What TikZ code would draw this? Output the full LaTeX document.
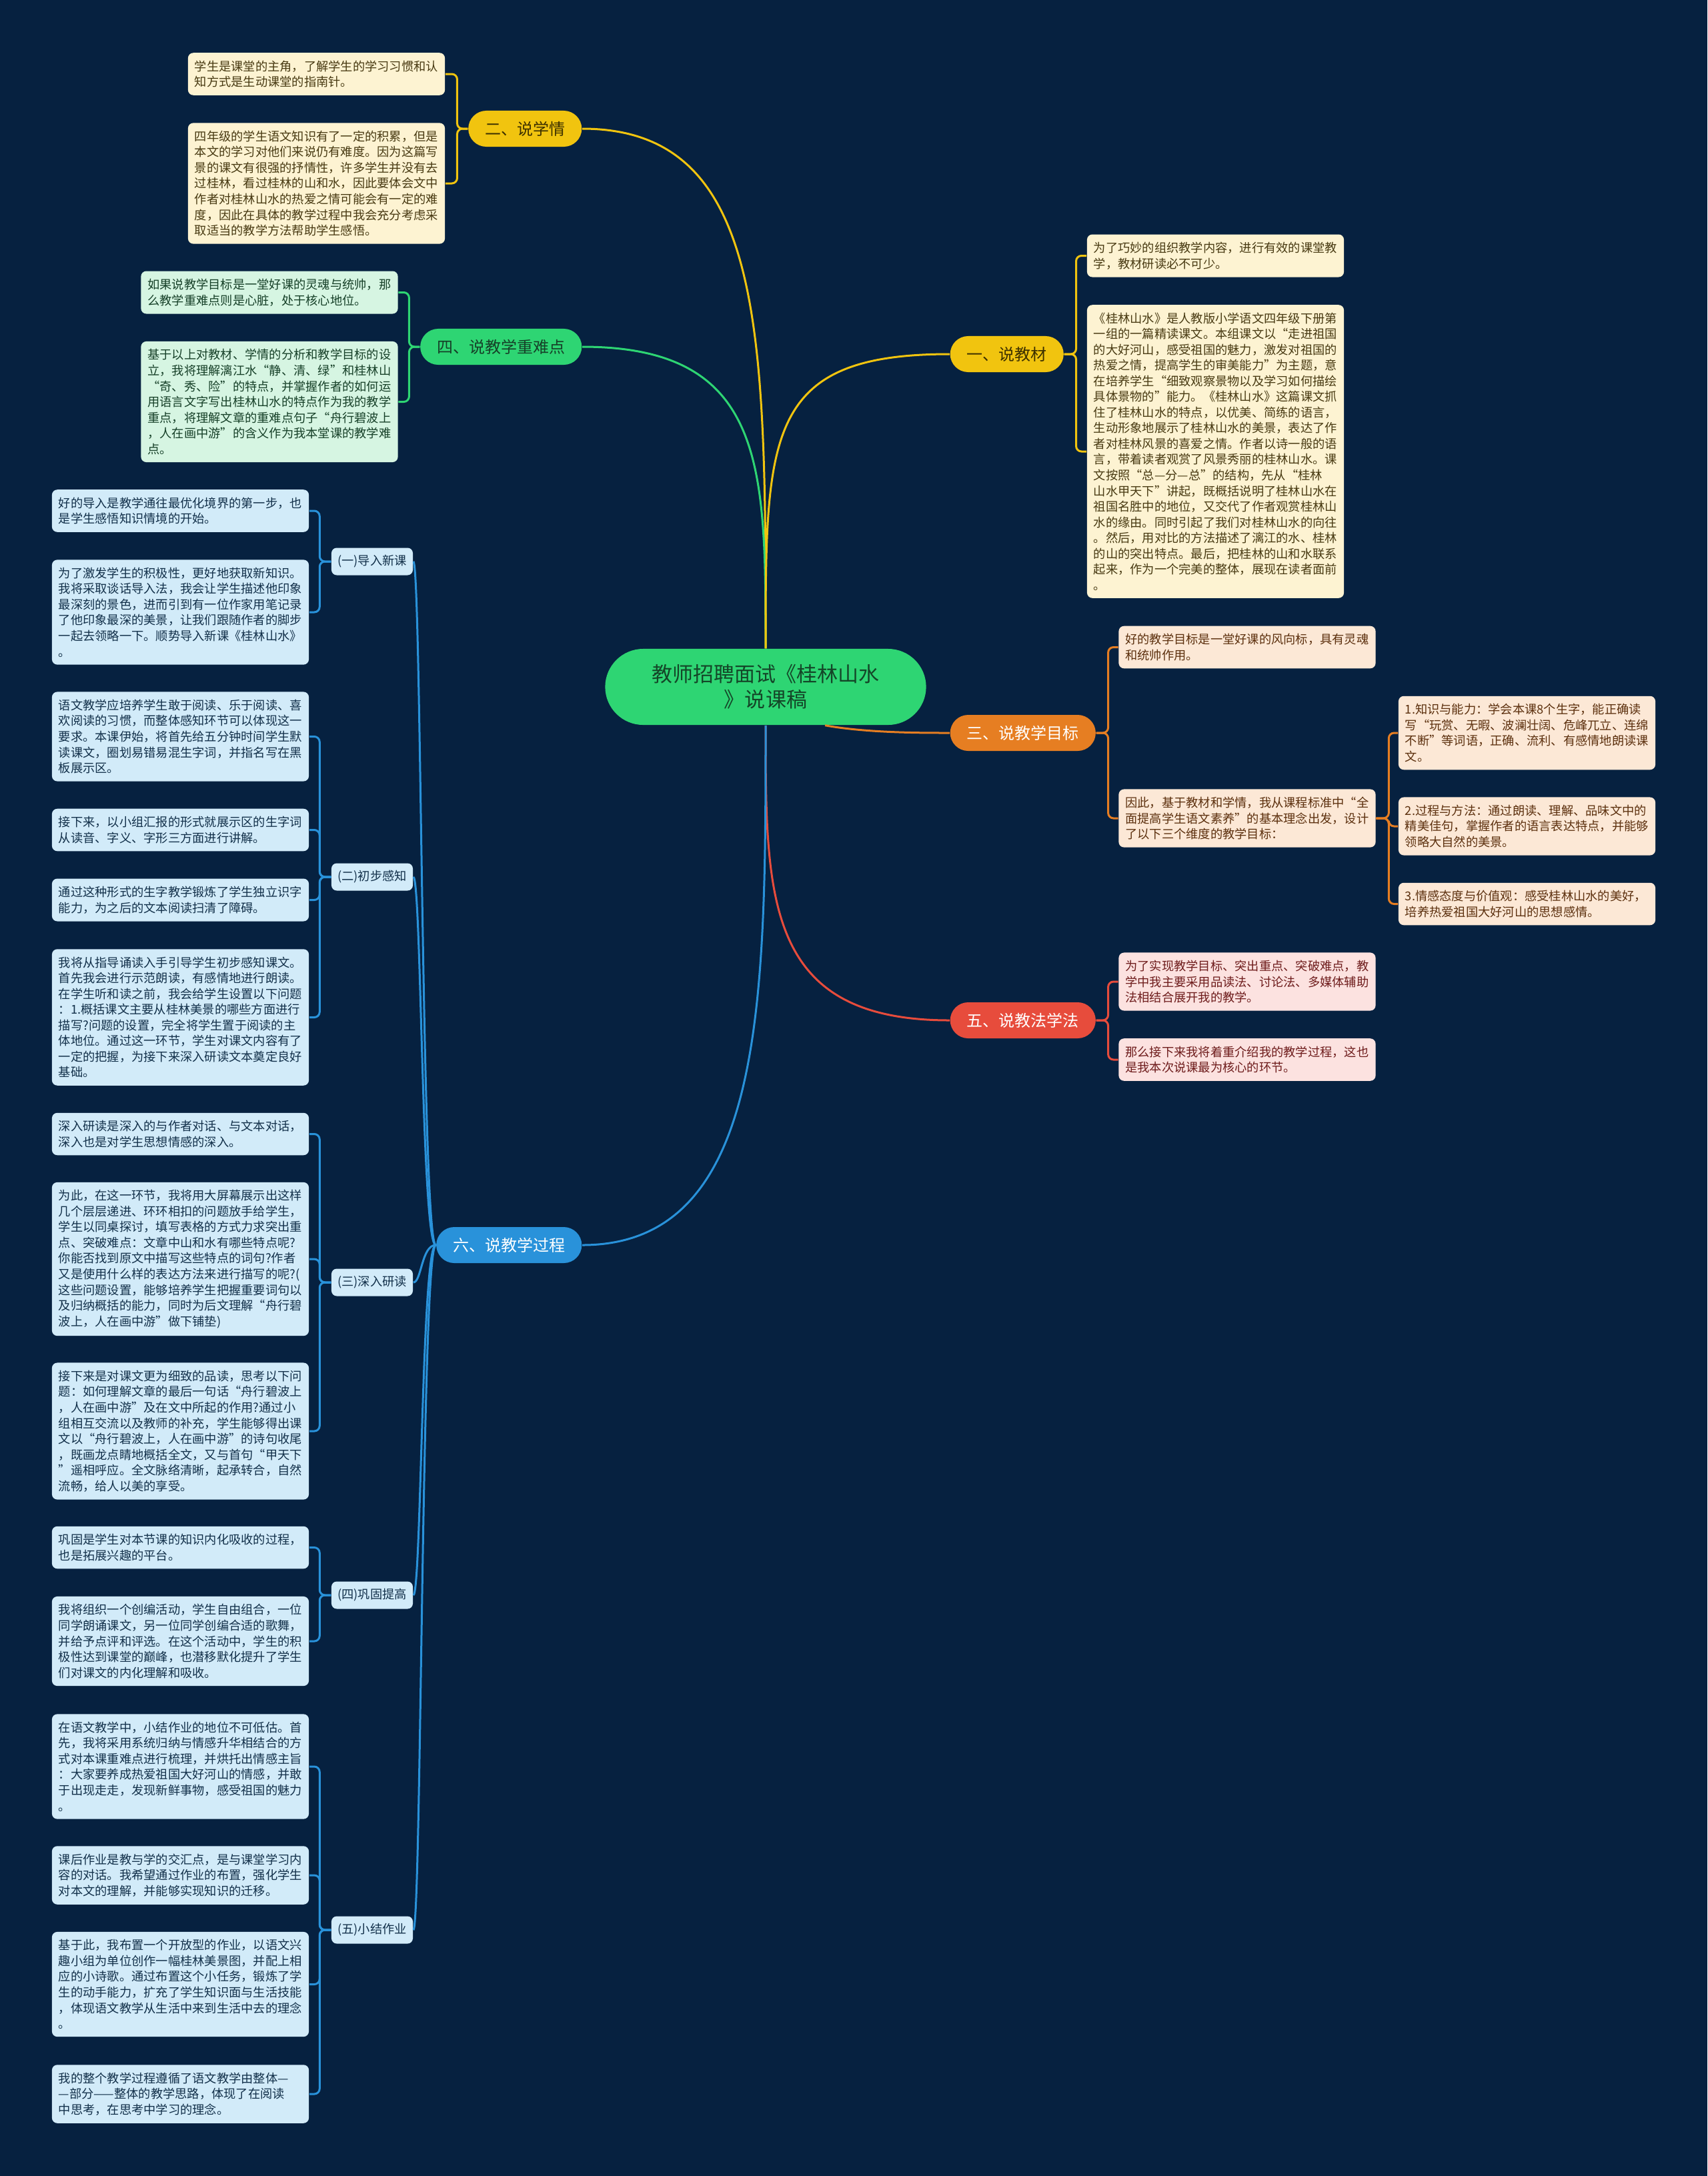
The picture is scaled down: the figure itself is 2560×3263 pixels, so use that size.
\documentclass[tikz,border=0pt]{standalone}
\usepackage{fontspec}
\newfontfamily\cjk{Noto Sans CJK SC}
\definecolor{bgnavy}{RGB}{6,33,64}
\definecolor{gold}{RGB}{241,196,15}
\definecolor{mint}{RGB}{46,213,115}
\definecolor{tangerine}{RGB}{230,126,34}
\definecolor{brick}{RGB}{231,76,60}
\definecolor{sky}{RGB}{41,146,218}
\definecolor{creamfill}{RGB}{253,243,210}
\definecolor{creamtext}{RGB}{72,58,18}
\definecolor{mintfill}{RGB}{214,245,226}
\definecolor{minttext}{RGB}{22,64,40}
\definecolor{peachfill}{RGB}{252,232,214}
\definecolor{peachtext}{RGB}{92,48,14}
\definecolor{pinkfill}{RGB}{252,226,224}
\definecolor{pinktext}{RGB}{110,28,28}
\definecolor{skyfill}{RGB}{210,235,249}
\definecolor{skytext}{RGB}{18,48,74}
\definecolor{roottext}{RGB}{20,70,40}
\definecolor{darkgold}{RGB}{60,48,0}
\newcommand{\leaffont}{\cjk\fontsize{5.19pt}{6.69pt}\selectfont}
\newcommand{\branchfont}{\cjk\fontsize{6.83pt}{8pt}\selectfont}
\newcommand{\rootfont}{\cjk\fontsize{8.82pt}{10.81pt}\selectfont}

\begin{document}
\begin{tikzpicture}[x=0.01cm, y=-0.01cm,
	wire/.style={line width=0.03cm},
	bracket/.style={line width=0.03cm, rounded corners=0.08cm},
	leaf/.style={shape=rectangle, rounded corners=0.08cm, text width=3.65cm, inner xsep=0.1cm, inner ysep=0.115cm, align=left, font=\leaffont},
	yleaf/.style={leaf, fill=creamfill, text=creamtext},
	gleaf/.style={leaf, fill=mintfill, text=minttext},
	oleaf/.style={leaf, fill=peachfill, text=peachtext},
	rleaf/.style={leaf, fill=pinkfill, text=pinktext},
	bleaf/.style={leaf, fill=skyfill, text=skytext},
	branch/.style={shape=rectangle, rounded corners=0.27cm, minimum height=0.54cm, inner xsep=0.25cm, inner ysep=0pt, font=\branchfont},
	subtopic/.style={shape=rectangle, rounded corners=0.08cm, minimum width=1.22cm, minimum height=0.41cm, inner sep=0pt, font=\leaffont, fill=skyfill, text=skytext}]
	% Background:
	\fill[bgnavy] (0, 0) rectangle (2560, 3263);
	\useasboundingbox (0, 0) rectangle (2560, 3263);

	% Root and main branches:
	\node[shape=rectangle, rounded corners=0.57cm, minimum width=4.81cm, minimum height=1.14cm, fill=mint, text=roottext, align=center, font=\rootfont] (root) at (1148, 1030){教师招聘面试《桂林山水\\》说课稿};
	\node[branch, fill=gold, text=darkgold, anchor=east] (xueqing) at (873, 193){二、说学情};
	\node[branch, fill=mint, text=minttext, anchor=east] (zhongnan) at (873, 520){四、说教学重难点};
	\node[branch, fill=gold, text=darkgold, anchor=west] (jiaocai) at (1424, 531){一、说教材};
	\node[branch, fill=tangerine, text=white, anchor=west] (mubiao) at (1424, 1099){三、说教学目标};
	\node[branch, fill=brick, text=white, anchor=west] (jiaofa) at (1424, 1530){五、说教法学法};
	\node[branch, fill=sky, text=white, anchor=east] (guocheng) at (873, 1867){六、说教学过程};

	\draw[wire, gold] (root.north) .. controls (1148, 500) and (1148, 193) .. (xueqing.east);
	\draw[wire, mint] (root.north) .. controls (1148, 700) and (1148, 520) .. (zhongnan.east);
	\draw[wire, gold] (root.north) .. controls (1148, 650) and (1148, 531) .. (jiaocai.west);
	\draw[wire, tangerine] ([xshift=0.89cm]root.south) .. controls (1300, 1099) and (1380, 1099) .. (mubiao.west);
	\draw[wire, brick] (root.south) .. controls (1148, 1350) and (1148, 1530) .. (jiaofa.west);
	\draw[wire, sky] (root.south) .. controls (1148, 1500) and (1148, 1867) .. (guocheng.east);

	% 二、说学情
	\node[yleaf] (xq1) at (474.5, 111){学生是课堂的主角，了解学生的学习习惯和认\\知方式是生动课堂的指南针。};
	\node[yleaf] (xq2) at (474.5, 275){四年级的学生语文知识有了一定的积累，但是\\本文的学习对他们来说仍有难度。因为这篇写\\景的课文有很强的抒情性，许多学生并没有去\\过桂林，看过桂林的山和水，因此要体会文中\\作者对桂林山水的热爱之情可能会有一定的难\\度，因此在具体的教学过程中我会充分考虑采\\取适当的教学方法帮助学生感悟。};
	\draw[bracket, gold] (xueqing.west) -- ++(-16, 0) |- (xq1.east);
	\draw[bracket, gold] (xueqing.west) -- ++(-16, 0) |- (xq2.east);

	% 四、说教学重难点
	\node[gleaf] (zn1) at (404, 438.5){如果说教学目标是一堂好课的灵魂与统帅，那\\么教学重难点则是心脏，处于核心地位。};
	\node[gleaf] (zn2) at (404, 602.5){基于以上对教材、学情的分析和教学目标的设\\立，我将理解漓江水“静、清、绿”和桂林山\\“奇、秀、险”的特点，并掌握作者的如何运\\用语言文字写出桂林山水的特点作为我的教学\\重点，将理解文章的重难点句子“舟行碧波上\\，人在画中游”的含义作为我本堂课的教学难\\点。};
	\draw[bracket, mint] (zhongnan.west) -- ++(-16, 0) |- (zn1.east);
	\draw[bracket, mint] (zhongnan.west) -- ++(-16, 0) |- (zn2.east);

	% 一、说教材
	\node[yleaf] (jc1) at (1822.5, 383.5){为了巧妙的组织教学内容，进行有效的课堂教\\学，教材研读必不可少。};
	\node[yleaf] (jc2) at (1822.5, 677){《桂林山水》是人教版小学语文四年级下册第\\一组的一篇精读课文。本组课文以“走进祖国\\的大好河山，感受祖国的魅力，激发对祖国的\\热爱之情，提高学生的审美能力”为主题，意\\在培养学生“细致观察景物以及学习如何描绘\\具体景物的”能力。《桂林山水》这篇课文抓\\住了桂林山水的特点，以优美、简练的语言，\\生动形象地展示了桂林山水的美景，表达了作\\者对桂林风景的喜爱之情。作者以诗一般的语\\言，带着读者观赏了风景秀丽的桂林山水。课\\文按照“总—分—总”的结构，先从“桂林\\山水甲天下”讲起，既概括说明了桂林山水在\\祖国名胜中的地位，又交代了作者观赏桂林山\\水的缘由。同时引起了我们对桂林山水的向往\\。然后，用对比的方法描述了漓江的水、桂林\\的山的突出特点。最后，把桂林的山和水联系\\起来，作为一个完美的整体，展现在读者面前\\。};
	\draw[bracket, gold] (jiaocai.east) -- ++(18, 0) |- (jc1.west);
	\draw[bracket, gold] (jiaocai.east) -- ++(18, 0) |- (jc2.west);

	% 三、说教学目标
	\node[oleaf] (mb1) at (1870, 970.5){好的教学目标是一堂好课的风向标，具有灵魂\\和统帅作用。};
	\node[oleaf] (mb2) at (1870, 1227){因此，基于教材和学情，我从课程标准中“全\\面提高学生语文素养”的基本理念出发，设计\\了以下三个维度的教学目标：};
	\node[oleaf] (mb21) at (2289.5, 1099){1.知识与能力：学会本课8个生字，能正确读\\写“玩赏、无暇、波澜壮阔、危峰兀立、连绵\\不断”等词语，正确、流利、有感情地朗读课\\文。};
	\node[oleaf] (mb22) at (2289.5, 1239){2.过程与方法：通过朗读、理解、品味文中的\\精美佳句，掌握作者的语言表达特点，并能够\\领略大自然的美景。};
	\node[oleaf] (mb23) at (2289.5, 1355.5){3.情感态度与价值观：感受桂林山水的美好，\\培养热爱祖国大好河山的思想感情。};
	\draw[bracket, tangerine] (mubiao.east) -- ++(18, 0) |- (mb1.west);
	\draw[bracket, tangerine] (mubiao.east) -- ++(18, 0) |- (mb2.west);
	\draw[bracket, tangerine] (mb2.east) -- ++(19, 0) |- (mb21.west);
	\draw[bracket, tangerine] (mb2.east) -- ++(19, 0) |- (mb22.west);
	\draw[bracket, tangerine] (mb2.east) -- ++(19, 0) |- (mb23.west);

	% 五、说教法学法
	\node[rleaf] (jf1) at (1870, 1472){为了实现教学目标、突出重点、突破难点，教\\学中我主要采用品读法、讨论法、多媒体辅助\\法相结合展开我的教学。};
	\node[rleaf] (jf2) at (1870, 1589){那么接下来我将着重介绍我的教学过程，这也\\是我本次说课最为核心的环节。};
	\draw[bracket, brick] (jiaofa.east) -- ++(18, 0) |- (jf1.west);
	\draw[bracket, brick] (jiaofa.east) -- ++(18, 0) |- (jf2.west);

	% 六、说教学过程
	\node[subtopic] (daoru) at (558, 842){(一)导入新课};
	\node[subtopic] (chubu) at (558, 1315){(二)初步感知};
	\node[subtopic] (shenru) at (558, 1923){(三)深入研读};
	\node[subtopic] (gonggu) at (558, 2392){(四)巩固提高};
	\node[subtopic] (xiaojie) at (558, 2894){(五)小结作业};
	\draw[wire, sky] (guocheng.west) .. controls (632, 1867) and (632, 842) .. (daoru.east);
	\draw[wire, sky] (guocheng.west) .. controls (632, 1867) and (632, 1315) .. (chubu.east);
	\draw[wire, sky] (guocheng.west) .. controls (632, 1867) and (632, 1923) .. (shenru.east);
	\draw[wire, sky] (guocheng.west) .. controls (632, 1867) and (632, 2392) .. (gonggu.east);
	\draw[wire, sky] (guocheng.west) .. controls (632, 1867) and (632, 2894) .. (xiaojie.east);

	\node[bleaf] (dr1) at (270.5, 766){好的导入是教学通往最优化境界的第一步，也\\是学生感悟知识情境的开始。};
	\node[bleaf] (dr2) at (270.5, 918){为了激发学生的积极性，更好地获取新知识。\\我将采取谈话导入法，我会让学生描述他印象\\最深刻的景色，进而引到有一位作家用笔记录\\了他印象最深的美景，让我们跟随作者的脚步\\一起去领略一下。顺势导入新课《桂林山水》\\。};
	\draw[bracket, sky] (daoru.west) -- ++(-17, 0) |- (dr1.east);
	\draw[bracket, sky] (daoru.west) -- ++(-17, 0) |- (dr2.east);

	\node[bleaf] (cb1) at (270.5, 1104.5){语文教学应培养学生敢于阅读、乐于阅读、喜\\欢阅读的习惯，而整体感知环节可以体现这一\\要求。本课伊始，将首先给五分钟时间学生默\\读课文，圈划易错易混生字词，并指名写在黑\\板展示区。};
	\node[bleaf] (cb2) at (270.5, 1244.5){接下来，以小组汇报的形式就展示区的生字词\\从读音、字义、字形三方面进行讲解。};
	\node[bleaf] (cb3) at (270.5, 1349.5){通过这种形式的生字教学锻炼了学生独立识字\\能力，为之后的文本阅读扫清了障碍。};
	\node[bleaf] (cb4) at (270.5, 1525.5){我将从指导诵读入手引导学生初步感知课文。\\首先我会进行示范朗读，有感情地进行朗读。\\在学生听和读之前，我会给学生设置以下问题\\：1.概括课文主要从桂林美景的哪些方面进行\\描写?问题的设置，完全将学生置于阅读的主\\体地位。通过这一环节，学生对课文内容有了\\一定的把握，为接下来深入研读文本奠定良好\\基础。};
	\draw[bracket, sky] (chubu.west) -- ++(-17, 0) |- (cb1.east);
	\draw[bracket, sky] (chubu.west) -- ++(-17, 0) |- (cb2.east);
	\draw[bracket, sky] (chubu.west) -- ++(-17, 0) |- (cb3.east);
	\draw[bracket, sky] (chubu.west) -- ++(-17, 0) |- (cb4.east);

	\node[bleaf] (sr1) at (270.5, 1700.5){深入研读是深入的与作者对话、与文本对话，\\深入也是对学生思想情感的深入。};
	\node[bleaf] (sr2) at (270.5, 1888){为此，在这一环节，我将用大屏幕展示出这样\\几个层层递进、环环相扣的问题放手给学生，\\学生以同桌探讨，填写表格的方式力求突出重\\点、突破难点：文章中山和水有哪些特点呢?\\你能否找到原文中描写这些特点的词句?作者\\又是使用什么样的表达方法来进行描写的呢?(\\这些问题设置，能够培养学生把握重要词句以\\及归纳概括的能力，同时为后文理解“舟行碧\\波上，人在画中游”做下铺垫)};
	\node[bleaf] (sr3) at (270.5, 2146){接下来是对课文更为细致的品读，思考以下问\\题：如何理解文章的最后一句话“舟行碧波上\\，人在画中游”及在文中所起的作用?通过小\\组相互交流以及教师的补充，学生能够得出课\\文以“舟行碧波上，人在画中游”的诗句收尾\\，既画龙点睛地概括全文，又与首句“甲天下\\”遥相呼应。全文脉络清晰，起承转合，自然\\流畅，给人以美的享受。};
	\draw[bracket, sky] (shenru.west) -- ++(-17, 0) |- (sr1.east);
	\draw[bracket, sky] (shenru.west) -- ++(-17, 0) |- (sr2.east);
	\draw[bracket, sky] (shenru.west) -- ++(-17, 0) |- (sr3.east);

	\node[bleaf] (gg1) at (270.5, 2320.5){巩固是学生对本节课的知识内化吸收的过程，\\也是拓展兴趣的平台。};
	\node[bleaf] (gg2) at (270.5, 2461){我将组织一个创编活动，学生自由组合，一位\\同学朗诵课文，另一位同学创编合适的歌舞，\\并给予点评和评选。在这个活动中，学生的积\\极性达到课堂的巅峰，也潜移默化提升了学生\\们对课文的内化理解和吸收。};
	\draw[bracket, sky] (gonggu.west) -- ++(-17, 0) |- (gg1.east);
	\draw[bracket, sky] (gonggu.west) -- ++(-17, 0) |- (gg2.east);

	\node[bleaf] (xj1) at (270.5, 2649){在语文教学中，小结作业的地位不可低估。首\\先，我将采用系统归纳与情感升华相结合的方\\式对本课重难点进行梳理，并烘托出情感主旨\\：大家要养成热爱祖国大好河山的情感，并敢\\于出现走走，发现新鲜事物，感受祖国的魅力\\。};
	\node[bleaf] (xj2) at (270.5, 2812){课后作业是教与学的交汇点，是与课堂学习内\\容的对话。我希望通过作业的布置，强化学生\\对本文的理解，并能够实现知识的迁移。};
	\node[bleaf] (xj3) at (270.5, 2975.5){基于此，我布置一个开放型的作业，以语文兴\\趣小组为单位创作一幅桂林美景图，并配上相\\应的小诗歌。通过布置这个小任务，锻炼了学\\生的动手能力，扩充了学生知识面与生活技能\\，体现语文教学从生活中来到生活中去的理念\\。};
	\node[bleaf] (xj4) at (270.5, 3140){我的整个教学过程遵循了语文教学由整体—\\—部分——整体的教学思路，体现了在阅读\\中思考，在思考中学习的理念。};
	\draw[bracket, sky] (xiaojie.west) -- ++(-17, 0) |- (xj1.east);
	\draw[bracket, sky] (xiaojie.west) -- ++(-17, 0) |- (xj2.east);
	\draw[bracket, sky] (xiaojie.west) -- ++(-17, 0) |- (xj3.east);
	\draw[bracket, sky] (xiaojie.west) -- ++(-17, 0) |- (xj4.east);
\end{tikzpicture}
\end{document}
